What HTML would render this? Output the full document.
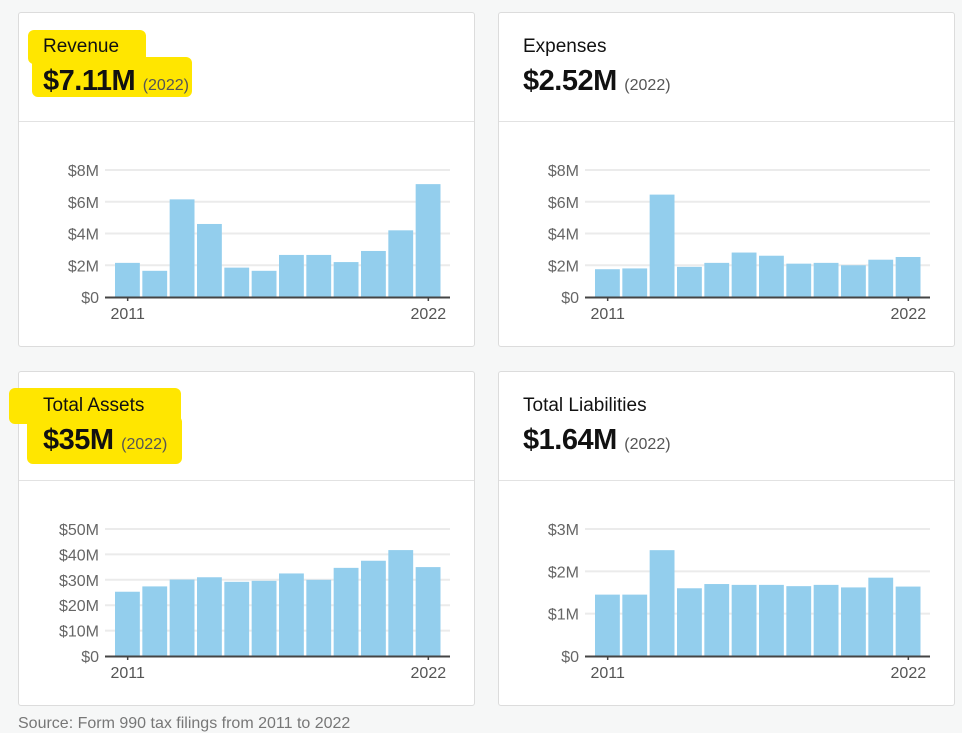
<!DOCTYPE html>
<html><head><meta charset="utf-8">
<style>
body{margin:0;width:962px;height:727px;background:#f6f7f7;font-family:"Liberation Sans",sans-serif;position:relative;overflow:hidden}
.card{position:absolute;width:457px;height:335px;background:#fff;border:1px solid #dcdcdc;border-radius:3px;box-sizing:border-box}
.hdr{position:absolute;left:0;top:108px;width:100%;height:1px;background:#e2e2e2}
.t{position:absolute;left:24px;top:23px;font-size:19px;color:#111}
.v{position:absolute;left:24px;top:52px;font-size:29px;font-weight:bold;color:#111;letter-spacing:-0.5px}
.v span{font-size:16px;font-weight:normal;color:#555;letter-spacing:0}
.hl{position:absolute;background:#ffe600;border-radius:6px}
svg{position:absolute;left:0;top:0}
.src{position:absolute;left:18px;top:715px;font-size:16px;color:#777}
</style></head><body>
<div class="card" style="left:18px;top:12px">
 <div class="hl" style="left:9px;top:17px;width:118px;height:34px"></div>
 <div class="hl" style="left:13px;top:44px;width:160px;height:40px"></div>
 <div class="t">Revenue</div>
 <div class="v">$7.11M <span>(2022)</span></div>
 <div class="hdr"></div>
 <svg id="c0" width="457" height="335"></svg>
</div>
<div class="card" style="left:498px;top:12px">
 <div class="t">Expenses</div>
 <div class="v">$2.52M <span>(2022)</span></div>
 <div class="hdr"></div>
 <svg id="c1" width="457" height="335"></svg>
</div>
<div class="card" style="left:18px;top:371px">
 <div class="hl" style="left:-10px;top:16px;width:172px;height:36px"></div>
 <div class="hl" style="left:8px;top:44px;width:155px;height:48px"></div>
 <div class="t">Total Assets</div>
 <div class="v">$35M <span>(2022)</span></div>
 <div class="hdr"></div>
 <svg id="c2" width="457" height="335"></svg>
</div>
<div class="card" style="left:498px;top:371px">
 <div class="t">Total Liabilities</div>
 <div class="v">$1.64M <span>(2022)</span></div>
 <div class="hdr"></div>
 <svg id="c3" width="457" height="335"></svg>
</div>
<div class="src">Source: Form 990 tax filings from 2011 to 2022</div>
<script>
const years=[2011,2012,2013,2014,2015,2016,2017,2018,2019,2020,2021,2022];
const revenue=[2.15,1.65,6.15,4.6,1.85,1.65,2.65,2.65,2.2,2.9,4.2,7.11];
const expenses=[1.75,1.8,6.45,1.9,2.15,2.8,2.6,2.1,2.15,2.0,2.35,2.52];
const assets=[25.3,27.4,30.1,31.0,29.2,29.6,32.5,30.0,34.7,37.5,41.7,35.0];
const liabilities=[1.45,1.45,2.5,1.6,1.7,1.68,1.68,1.65,1.68,1.62,1.85,1.64];
const ticksRev=[0,2,4,6,8];
const ticksExp=[0,2,4,6,8];
const ticksAss=[0,10,20,30,40,50];
const ticksLia=[0,1,2,3];
const NS='http://www.w3.org/2000/svg';
function mk(svg,tag,a){const e=document.createElementNS(NS,tag);for(const k in a)e.setAttribute(k,a[k]);svg.appendChild(e);return e;}
function draw(id,vals,ticks,top){
 const svg=document.getElementById(id);
 const y0=284,max=ticks[ticks.length-1];
 const y=v=>y0-(y0-top)*v/max;
 const bx0=95,bx1=423,step=(bx1-bx0)/vals.length;
 const x=i=>bx0+i*step;
 ticks.forEach(t=>{
  if(t>0){const l=mk(svg,'line',{x1:86,x2:431,y1:y(t),y2:y(t),stroke:'#ebebeb','stroke-width':2});
  
  }
  const tx=mk(svg,'text',{x:80,y:y(t)+6,'text-anchor':'end','font-size':16,fill:'#666','font-family':'Liberation Sans, sans-serif'});
  tx.textContent=t===0?'$0':'$'+t+'M';
  
  
 });
 vals.forEach((v,i)=>{
  const r=mk(svg,'rect',{x:x(i)+1,y:y(v),width:step-2.5,height:y0-y(v),fill:'#93ceed'});
  
  
 });
 const ax=mk(svg,'line',{x1:86,x2:431,y1:y0+0.5,y2:y0+0.5,stroke:'#444','stroke-width':2});
 
 
 [0,vals.length-1].forEach(i=>{
  const cx=x(i)+step/2;
  mk(svg,'line',{x1:cx,x2:cx,y1:y0,y2:y0+4,stroke:'#444','stroke-width':1.5});
  const tx=mk(svg,'text',{x:cx,y:y0+22,'text-anchor':'middle','font-size':16,fill:'#555','font-family':'Liberation Sans, sans-serif'});
  tx.textContent=years[i];
  
  
 });
}
draw('c0',revenue,ticksRev,157);
draw('c1',expenses,ticksExp,157);
draw('c2',assets,ticksAss,157);
draw('c3',liabilities,ticksLia,157);
</script>
</body></html>
